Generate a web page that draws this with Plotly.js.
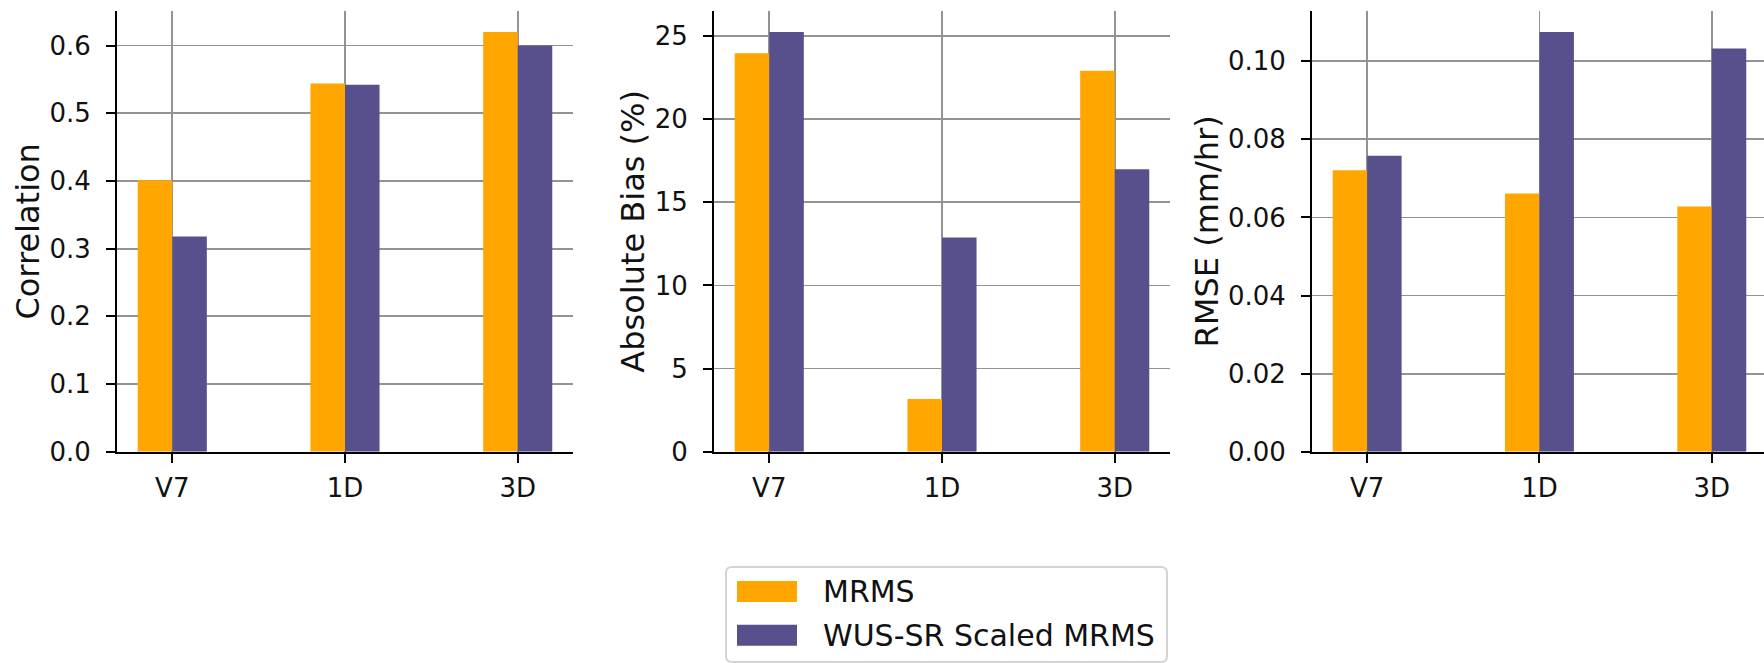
<!DOCTYPE html>
<html>
<head>
<meta charset="utf-8">
<script src="https://cdn.plot.ly/plotly-3.0.1.min.js"></script>
<style>html,body{margin:0;padding:0;background:#fff;}#chart{width:1764px;height:663px;}</style>
</head>
<body>
<div id="chart"></div>
<script>
// ---- data ----
const categories = ['V7', '1D', '3D'];
const seriesNames = ['MRMS', 'WUS-SR Scaled MRMS'];
const seriesColors = ['#ffa600', '#58508d'];
const corrMRMS = [0.401, 0.544, 0.620];
const corrWUS  = [0.318, 0.542, 0.600];
const biasMRMS = [23.96, 3.17, 22.91];
const biasWUS  = [25.24, 12.88, 16.98];
const rmseMRMS = [0.0721, 0.0661, 0.0628];
const rmseWUS  = [0.0758, 0.1075, 0.1033];
const yTitles = ['Correlation', 'Absolute Bias (%)', 'RMSE (mm/hr)'];

// ---- layout helpers ----
const W = 1764, H = 663;
const px2x = p => p / W;
const px2y = p => 1 - p / H;
const FONT = 'DejaVu Sans, sans-serif';
const TXT = '#111111';

const panels = [
  {a: corrMRMS, b: corrWUS, dom: [117, 573], xr: [-0.32, 2.32], dtick: 0.1, fmt: '.1f'},
  {a: biasMRMS, b: biasWUS, dom: [714, 1170], xr: [-0.32, 2.32], dtick: 5, fmt: 'd'},
  {a: rmseMRMS, b: rmseWUS, dom: [1312, 1764], xr: [-0.32, 2.303], dtick: 0.02, fmt: '.2f'}
];

const traces = [];
const layout = {
  width: W, height: H,
  margin: {l: 0, r: 0, t: 0, b: 0},
  paper_bgcolor: '#ffffff', plot_bgcolor: '#ffffff',
  barmode: 'group', bargap: 0.6, bargroupgap: 0,
  showlegend: false,
  font: {family: FONT, color: TXT},
  shapes: [], annotations: []
};

const yDom = [px2y(451.7), px2y(11)];

panels.forEach((p, i) => {
  const sfx = i === 0 ? '' : String(i + 1);
  [p.a, p.b].forEach((vals, k) => {
    traces.push({
      type: 'bar', x: categories, y: vals, name: seriesNames[k],
      marker: {color: seriesColors[k], line: {width: 0}},
      xaxis: 'x' + sfx, yaxis: 'y' + sfx, showlegend: false, hoverinfo: 'x+y+name'
    });
  });
  const ymax = Math.max(...p.a, ...p.b) * 1.05;
  layout['xaxis' + sfx] = {
    domain: [px2x(p.dom[0]), Math.min(1, px2x(p.dom[1]))],
    anchor: 'y' + sfx, type: 'category', range: p.xr,
    showline: true, linecolor: '#000', linewidth: 2,
    ticks: 'outside', ticklen: 9, tickwidth: 2, tickcolor: '#000',
    showgrid: true, gridcolor: '#939393', gridwidth: 1.8,
    tickfont: {family: FONT, size: 26, color: TXT},
    ticklabelstandoff: 3,
    automargin: false, fixedrange: true
  };
  layout['yaxis' + sfx] = {
    domain: yDom, anchor: 'x' + sfx, range: [0, ymax],
    dtick: p.dtick, tick0: 0, tickformat: p.fmt,
    showline: true, linecolor: '#000', linewidth: 2,
    ticks: 'outside', ticklen: 9, tickwidth: 2, tickcolor: '#000',
    showgrid: true, gridcolor: '#939393', gridwidth: 1.8,
    zeroline: false,
    tickfont: {family: FONT, size: 26, color: TXT},
    ticklabelstandoff: 10,
    title: {text: yTitles[i], font: {family: FONT, size: 32, color: TXT}, standoff: 0},
    automargin: false, fixedrange: true
  };
});

// ---- legend (drawn as box, swatches and text) ----
const lx0 = 726, lx1 = 1167, ly0 = 567, ly1 = 662, r = 6;
layout.shapes.push({
  type: 'path', xref: 'paper', yref: 'paper',
  path: `M ${px2x(lx0 + r)},${px2y(ly0)} L ${px2x(lx1 - r)},${px2y(ly0)} Q ${px2x(lx1)},${px2y(ly0)} ${px2x(lx1)},${px2y(ly0 + r)} ` +
        `L ${px2x(lx1)},${px2y(ly1 - r)} Q ${px2x(lx1)},${px2y(ly1)} ${px2x(lx1 - r)},${px2y(ly1)} ` +
        `L ${px2x(lx0 + r)},${px2y(ly1)} Q ${px2x(lx0)},${px2y(ly1)} ${px2x(lx0)},${px2y(ly1 - r)} ` +
        `L ${px2x(lx0)},${px2y(ly0 + r)} Q ${px2x(lx0)},${px2y(ly0)} ${px2x(lx0 + r)},${px2y(ly0)} Z`,
  line: {color: '#d4d4d4', width: 2}, fillcolor: 'rgba(255,255,255,0.8)', layer: 'above'
});
seriesNames.forEach((name, k) => {
  const cy = 591.5 + k * 43.7;
  layout.shapes.push({
    type: 'rect', xref: 'paper', yref: 'paper', layer: 'above',
    x0: px2x(737), x1: px2x(797), y0: px2y(cy - 10.5), y1: px2y(cy + 10.5),
    fillcolor: seriesColors[k], line: {width: 0}
  });
  layout.annotations.push({
    xref: 'paper', yref: 'paper', x: px2x(821), y: px2y(cy),
    xanchor: 'left', yanchor: 'middle', showarrow: false,
    text: name, font: {family: FONT, size: 30, color: TXT}
  });
});

Plotly.newPlot('chart', traces, layout, {displayModeBar: false, staticPlot: true});
</script>
</body>
</html>
